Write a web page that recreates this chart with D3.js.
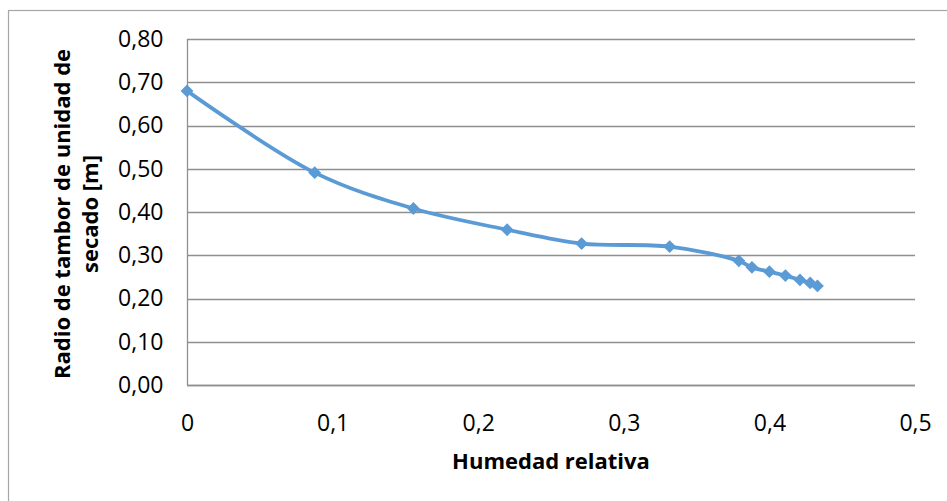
<!DOCTYPE html>
<html>
<head>
<meta charset="utf-8">
<script src="https://cdn.jsdelivr.net/npm/d3@7/dist/d3.min.js"></script>
<style>
  html, body { margin: 0; padding: 0; background: #fff; }
  svg { display: block; font-family: "Open Sans", "Noto Sans", sans-serif; }
</style>
</head>
<body>
<script>
// Drum radius of the drying unit versus relative humidity
const humedad = [0, 0.0877, 0.1555, 0.2199, 0.271, 0.3315, 0.379, 0.388, 0.400, 0.411, 0.421, 0.428, 0.433];
const radio   = [0.68, 0.491, 0.408, 0.359, 0.327, 0.320, 0.287, 0.272, 0.262, 0.253, 0.243, 0.236, 0.229];
const xTicks = [0, 0.1, 0.2, 0.3, 0.4, 0.5];
const yTicks = [0, 0.1, 0.2, 0.3, 0.4, 0.5, 0.6, 0.7, 0.8];
const xTitle = "Humedad relativa";
const yTitle = ["Radio de tambor de unidad de", "secado [m]"];

const W = 947, H = 501;
const plot = { left: 187, right: 915, top: 39, bottom: 385 };

const svg = d3.select("body").append("svg").attr("width", W).attr("height", H);

// chart frame (runs past the right and bottom edges)
svg.append("rect")
  .attr("x", 8.5).attr("y", 10.5).attr("width", W + 10).attr("height", H + 10)
  .attr("fill", "#fff").attr("stroke", "#a6a6a6").attr("stroke-width", 1.2);

const x = d3.scaleLinear().domain([0, 0.5]).range([plot.left, plot.right]);
const y = d3.scaleLinear().domain([0, 0.8]).range([plot.bottom, plot.top]);

const fmt = d => d3.format(".2f")(d).replace(".", ",");
const fmtX = d => d === 0 ? "0" : String(d).replace(".", ",");

// horizontal gridlines
svg.append("g")
  .selectAll("line").data(yTicks).join("line")
  .attr("x1", plot.left).attr("x2", plot.right)
  .attr("y1", d => Math.round(y(d)) + 0.5).attr("y2", d => Math.round(y(d)) + 0.5)
  .attr("stroke", "#8f8f8f").attr("stroke-width", 1.3);

// y axis
const yAxis = svg.append("g")
  .attr("transform", `translate(${plot.left + 0.5},0)`)
  .call(d3.axisLeft(y).tickValues(yTicks).tickFormat(fmt).tickSize(0).tickPadding(24));
yAxis.select(".domain").attr("stroke", "#8f8f8f").attr("stroke-width", 1.3)
  .attr("d", `M0,${plot.top}V${plot.bottom}`);
yAxis.selectAll("text").attr("font-size", 23).attr("fill", "#000").attr("font-family", "Open Sans");

// x axis
const xAxis = svg.append("g")
  .attr("transform", `translate(0,${Math.round(plot.bottom) + 0.5})`)
  .call(d3.axisBottom(x).tickValues(xTicks).tickFormat(fmtX).tickSize(0));
xAxis.select(".domain").attr("stroke", "#8f8f8f").attr("stroke-width", 1.3)
  .attr("d", `M${plot.left},0H${plot.right}`);
xAxis.selectAll("text").attr("font-size", 23).attr("fill", "#000").attr("font-family", "Open Sans")
  .attr("y", 45).attr("dy", null);

// axis titles
svg.append("text")
  .attr("x", 551).attr("y", 469)
  .attr("text-anchor", "middle").attr("font-size", 22).attr("font-weight", "bold")
  .text(xTitle);

const yt = svg.append("text")
  .attr("transform", `translate(70,214) rotate(-90)`)
  .attr("text-anchor", "middle").attr("font-size", 22).attr("font-weight", "bold");
yTitle.forEach((t, i) => yt.append("tspan").attr("x", 0).attr("dy", i === 0 ? 0 : 28).text(t));

// series
const pts = humedad.map((h, i) => [h, radio[i]]);
const line = d3.line().x(d => x(d[0])).y(d => y(d[1])).curve(d3.curveCatmullRom.alpha(0.5));

svg.append("path")
  .datum(pts)
  .attr("d", line)
  .attr("fill", "none").attr("stroke", "#5b9bd5").attr("stroke-width", 3.8)
  .attr("stroke-linejoin", "round");

const diamond = d3.symbol().type(d3.symbolDiamond2).size(105);
svg.append("g")
  .selectAll("path").data(pts).join("path")
  .attr("transform", d => `translate(${x(d[0])},${y(d[1])})`)
  .attr("d", diamond)
  .attr("fill", "#5b9bd5");
</script>
</body>
</html>
